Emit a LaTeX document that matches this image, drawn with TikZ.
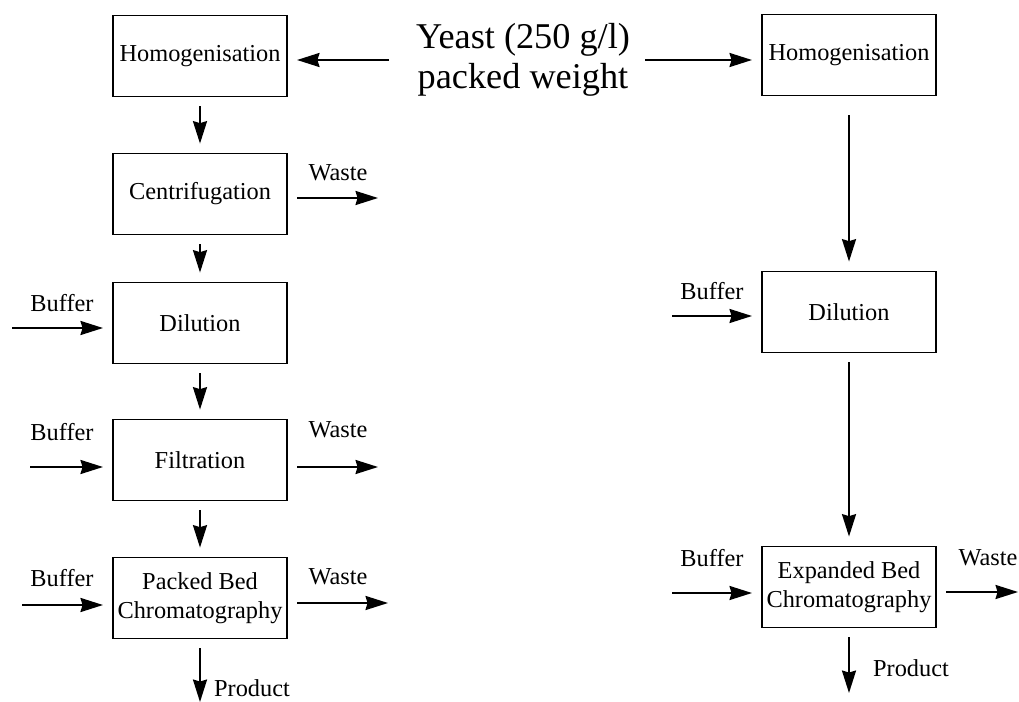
\documentclass[tikz,border=0pt]{standalone}
\usepackage{fontspec}
\setmainfont{Liberation Serif}
\usetikzlibrary{positioning,arrows.meta}
\tikzset{
  box/.style={rectangle, draw=black, line width=1.2pt, minimum width=4.35cm, minimum height=2.02cm, inner sep=2pt, outer sep=0.25cm, align=center, font=\fontsize{17.3}{21}\selectfont},
  lbl/.style={inner sep=1pt, font=\fontsize{17.3}{21}\selectfont},
  big/.style={align=center, inner sep=1pt, font=\fontsize{25.8}{28.5}\selectfont},
  flow/.style={draw=black, line width=1.4pt, -{Stealth[length=16pt, width=10pt, inset=1.5pt]}},
  px/.style={x=0.025cm, y=-0.025cm}
}
\begin{document}
\begin{tikzpicture}[px]
  \useasboundingbox (0,0) rectangle (1019,702);
  % feed
  \node[big] (yeast) at (523,60) {Yeast (250 g/l)\\packed weight};
  \coordinate (yl) at (389,60);
  \coordinate (yr) at (645,60);
  % conventional route
  \node[box] (homL) at (200,56) {Homogenisation};
  \node[box] (cenL) at (200,194) {Centrifugation};
  \node[box] (dilL) at (200,323) {Dilution};
  \node[box] (filL) at (200,460) {Filtration};
  \node[box] (pbc) at (200,598) {Packed Bed\\Chromatography};
  % expanded bed route
  \node[box] (homR) at (849,55) {Homogenisation};
  \node[box] (dilR) at (849,312) {Dilution};
  \node[box] (ebc) at (849,587) {Expanded Bed\\Chromatography};
  % side streams
  \coordinate (b1) at (12,328);  \node[lbl] (bl1) at (62,303) {Buffer};
  \coordinate (b2) at (30,467);  \node[lbl] (bl2) at (62,432) {Buffer};
  \coordinate (b3) at (22,605);  \node[lbl] (bl3) at (62,578) {Buffer};
  \coordinate (b4) at (672,316); \node[lbl] (bl4) at (712,291) {Buffer};
  \coordinate (b5) at (672,593); \node[lbl] (bl5) at (712,558) {Buffer};
  \coordinate (w1) at (378,198); \node[lbl] (wl1) at (338,173) {Waste};
  \coordinate (w2) at (378,467); \node[lbl] (wl2) at (338,430) {Waste};
  \coordinate (w3) at (388,603); \node[lbl] (wl3) at (338,577) {Waste};
  \coordinate (w4) at (1018,592); \node[lbl] (wl4) at (988,558) {Waste};
  \coordinate (p1) at (200,702); \node[lbl] (pl1) at (252,688) {Product};
  \coordinate (p2) at (849,693); \node[lbl] (pl2) at (911,668) {Product};
  % main flow
  \draw[flow] (yl) -- (yl -| homL.east);
  \draw[flow] (yr) -- (yr -| homR.west);
  \draw[flow] (homL) -- (cenL);
  \draw[flow] (cenL) -- (dilL);
  \draw[flow] (dilL) -- (filL);
  \draw[flow] (filL) -- (pbc);
  \draw[flow] (pbc) -- (p1);
  \draw[flow, shorten <=0.25cm] (homR) -- (dilR);
  \draw[flow] (dilR) -- (ebc);
  \draw[flow] (ebc) -- (p2);
  % buffers in, waste out
  \draw[flow] (b1) -- (b1 -| dilL.west);
  \draw[flow] (b2) -- (b2 -| filL.west);
  \draw[flow] (b3) -- (b3 -| pbc.west);
  \draw[flow] (b4) -- (b4 -| dilR.west);
  \draw[flow] (b5) -- (b5 -| ebc.west);
  \draw[flow] (w1 -| cenL.east) -- (w1);
  \draw[flow] (w2 -| filL.east) -- (w2);
  \draw[flow] (w3 -| pbc.east) -- (w3);
  \draw[flow] (w4 -| ebc.east) -- (w4);
\end{tikzpicture}
\end{document}
